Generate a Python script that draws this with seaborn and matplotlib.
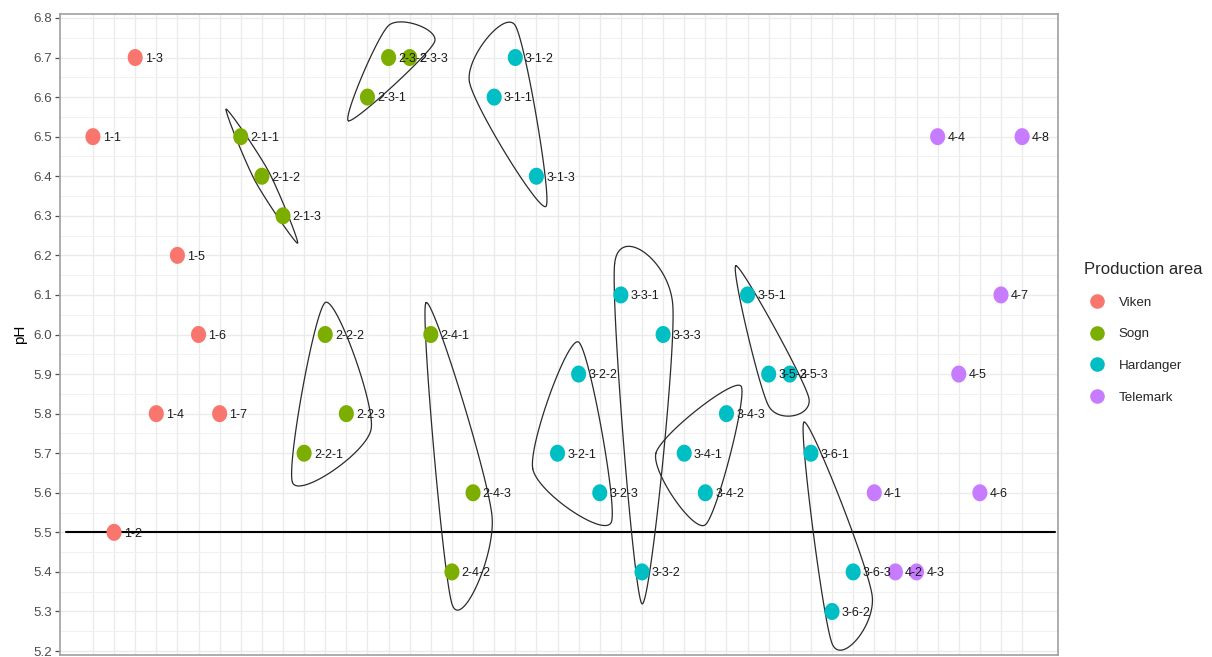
import numpy as np
import pandas as pd
import matplotlib
matplotlib.use("Agg")
import matplotlib.pyplot as plt
from matplotlib.lines import Line2D
from matplotlib.path import Path
import seaborn as sns

# --- data ---
sample_ids = [
    "1-1", "1-2", "1-3", "1-4", "1-5", "1-6", "1-7",
    "2-1-1", "2-1-2", "2-1-3", "2-2-1", "2-2-2", "2-2-3",
    "2-3-1", "2-3-2", "2-3-3", "2-4-1", "2-4-2", "2-4-3",
    "3-1-1", "3-1-2", "3-1-3", "3-2-1", "3-2-2", "3-2-3",
    "3-3-1", "3-3-2", "3-3-3", "3-4-1", "3-4-2", "3-4-3",
    "3-5-1", "3-5-2", "3-5-3", "3-6-1", "3-6-2", "3-6-3",
    "4-1", "4-2", "4-3", "4-4", "4-5", "4-6", "4-7", "4-8",
]
ph_values = [
    6.5, 5.5, 6.7, 5.8, 6.2, 6.0, 5.8,
    6.5, 6.4, 6.3, 5.7, 6.0, 5.8,
    6.6, 6.7, 6.7, 6.0, 5.4, 5.6,
    6.6, 6.7, 6.4, 5.7, 5.9, 5.6,
    6.1, 5.4, 6.0, 5.7, 5.6, 5.8,
    6.1, 5.9, 5.9, 5.7, 5.3, 5.4,
    5.6, 5.4, 5.4, 6.5, 5.9, 5.6, 6.1, 6.5,
]
areas = ["Viken"] * 7 + ["Sogn"] * 12 + ["Hardanger"] * 18 + ["Telemark"] * 8
area_order = ["Viken", "Sogn", "Hardanger", "Telemark"]
area_colors = ["#F8766D", "#7CAE00", "#00BFC4", "#C77CFF"]
ph_threshold = 5.5

df = pd.DataFrame({"sample": sample_ids, "pH": ph_values, "area": areas})
df["pos"] = np.arange(1, len(df) + 1)
df["site"] = [s.rsplit("-", 1)[0] if s.count("-") == 2 else None for s in df["sample"]]

sns.set_theme(style="white")
plt.rcParams["font.family"] = ["Liberation Sans", "DejaVu Sans"]

# the reference is slightly squeezed horizontally
ASPECT = 0.885

fig = plt.figure(figsize=(12.12, 6.57), dpi=100)
ax = fig.add_axes([60 / 1212, 2 / 657, 998 / 1212, 641 / 657])
ax.set_xlim(-0.56, 46.7)
ax.set_ylim(5.19, 6.81)

# grid
ax.set_xticks(df["pos"])
ax.set_xticklabels([])
ax.set_yticks(np.round(np.arange(5.2, 6.81, 0.1), 1))
ax.set_yticks(np.round(np.arange(5.25, 6.8, 0.1), 2), minor=True)
ax.set_yticklabels([f"{v:.1f}" for v in np.arange(5.2, 6.81, 0.1)])
ax.grid(True, which="major", color="#ebebeb", linewidth=1.0)
ax.grid(True, which="minor", axis="y", color="#f1f1f1", linewidth=0.7)
ax.set_axisbelow(True)
ax.tick_params(axis="x", length=0)
ax.tick_params(axis="y", which="major", length=3.5, width=0.9, color="#4d4d4d",
               labelsize=9.6, labelcolor="#4d4d4d", left=True, pad=2)
ax.tick_params(axis="y", which="minor", length=0)
for sp in ax.spines.values():
    sp.set_color("#a0a0a0")
    sp.set_linewidth(1.2)

ax.axhline(ph_threshold, xmin=0.006, xmax=0.997, color="black", linewidth=1.5, zorder=2)

theta = np.linspace(0, 2 * np.pi, 60)
oval = Path(np.column_stack([ASPECT * np.cos(theta), np.sin(theta)]))

sns.scatterplot(data=df, x="pos", y="pH", hue="area", hue_order=area_order,
                palette=dict(zip(area_order, area_colors)), s=150, linewidth=0,
                marker=oval, legend=False, ax=ax, zorder=3)

for _, r in df.iterrows():
    ax.annotate(r["sample"], (r["pos"], r["pH"]), xytext=(7, -1), textcoords="offset points",
                ha="left", va="center", fontsize=9, color="#1a1a1a", zorder=4)


def convex_hull(pts):
    pts = sorted(map(tuple, pts))
    def cross(o, a, b):
        return (a[0] - o[0]) * (b[1] - o[1]) - (a[1] - o[1]) * (b[0] - o[0])
    lower, upper = [], []
    for p in pts:
        while len(lower) >= 2 and cross(lower[-2], lower[-1], p) <= 1e-6:
            lower.pop()
        lower.append(p)
    for p in reversed(pts):
        while len(upper) >= 2 and cross(upper[-2], upper[-1], p) <= 1e-6:
            upper.pop()
        upper.append(p)
    return np.array(lower[:-1] + upper[:-1])


def closed_spline(ctrl, tau=0.4, steps=40):
    n = len(ctrl)
    t = np.linspace(0, 1, steps, endpoint=False)[:, None]
    h00 = 2 * t**3 - 3 * t**2 + 1
    h10 = t**3 - 2 * t**2 + t
    h01 = -2 * t**3 + 3 * t**2
    h11 = t**3 - t**2
    tang = [tau * (ctrl[(i + 1) % n] - ctrl[i - 1]) for i in range(n)]
    out = []
    for i in range(n):
        j = (i + 1) % n
        out.append(h00 * ctrl[i] + h10 * tang[i] + h01 * ctrl[j] + h11 * tang[j])
    out = np.vstack(out)
    return np.vstack([out, out[:1]])


def encircle(ax, xs, ys, expand=32, spread=9):
    disp = ax.transData.transform(np.column_stack([xs, ys]))
    disp[:, 0] /= ASPECT
    centre = disp.mean(axis=0)
    hull = convex_hull(disp)
    d = hull - centre
    hull = hull + expand * d / np.linalg.norm(d, axis=1)[:, None]
    if len(hull) == 2:
        a, b = hull
        u = (b - a) / np.linalg.norm(b - a)
        perp = np.array([-u[1], u[0]]) * spread
        mid = hull.mean(axis=0)
        hull = np.array([a, mid + perp, b, mid - perp])
    curve = closed_spline(hull)
    curve[:, 0] *= ASPECT
    data = ax.transData.inverted().transform(curve)
    ax.plot(data[:, 0], data[:, 1], color="#2b2b2b", linewidth=0.9, zorder=2.5)


for site, g in df.dropna(subset=["site"]).groupby("site"):
    encircle(ax, g["pos"].values, g["pH"].values)

ax.set_xlabel("")
ax.set_ylabel("pH", fontsize=11, color="black", labelpad=5)

handles = [Line2D([], [], marker="o", linestyle="", markersize=10.5, color=c,
                  markeredgewidth=0) for c in area_colors]
leg = fig.legend(handles, area_order, title="Production area", loc="upper left",
                 bbox_to_anchor=(1072 / 1212, 1 - 250 / 657), frameon=False,
                 fontsize=9.6, title_fontsize=12, labelspacing=1.45, handletextpad=0.6,
                 alignment="left")

fig.savefig("out.png", dpi=100)
